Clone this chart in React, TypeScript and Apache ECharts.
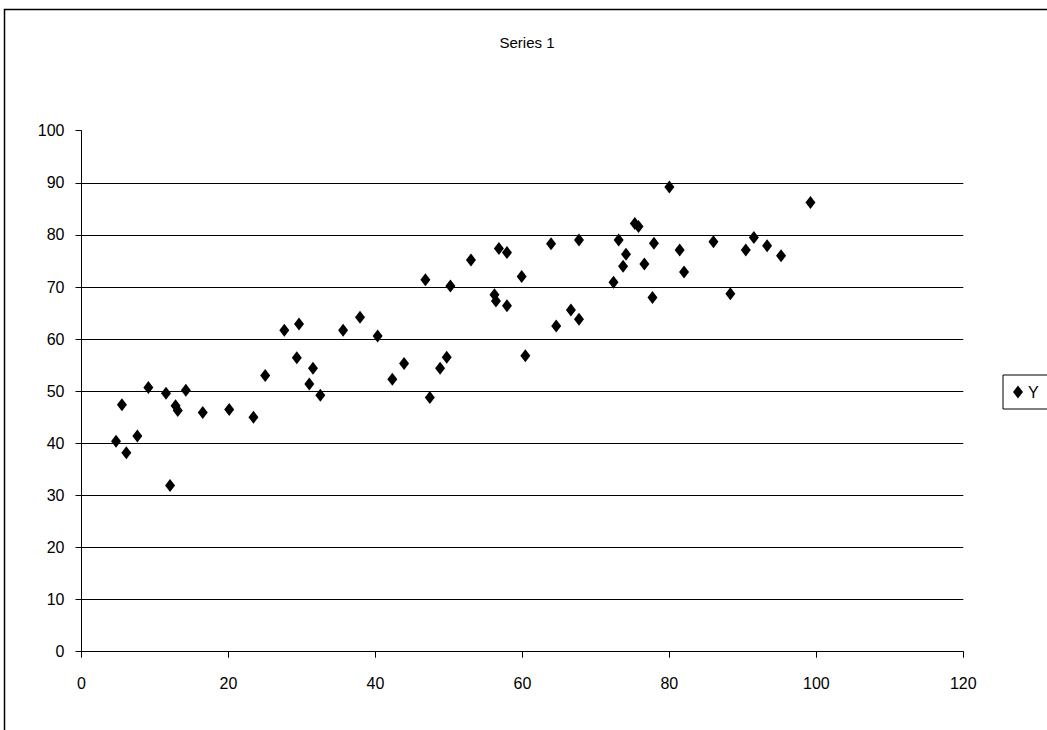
import React, { useEffect, useRef } from "react";
import * as echarts from "echarts";

const seriesName = "Y";
const titleText = "Series 1";

const xValues = [
  4.7, 5.5, 6.1, 7.6, 9.1, 11.5, 12.05, 12.8, 13.1, 14.2, 16.5, 20.1, 23.4, 25.0,
  27.6, 29.6, 29.3, 31.5, 31.0, 32.5, 35.6, 37.9, 40.3, 42.3, 43.9, 46.8, 47.4,
  48.8, 49.7, 50.2, 53.0, 56.8, 57.9, 56.2, 56.4, 57.9, 59.9, 60.4, 63.9, 64.6,
  66.6, 67.7, 67.7, 72.4, 73.1, 73.7, 74.1, 75.3, 75.8, 76.6, 77.7, 77.9, 80.0,
  81.4, 82.0, 86.0, 88.3, 90.4, 91.5, 93.3, 95.2, 99.2,
];
const yValues = [
  40.4, 47.4, 38.2, 41.4, 50.7, 49.6, 31.9, 47.2, 46.3, 50.2, 45.9, 46.5, 45.0, 53.0,
  61.7, 62.9, 56.4, 54.4, 51.4, 49.2, 61.7, 64.2, 60.6, 52.3, 55.3, 71.4, 48.8,
  54.4, 56.5, 70.2, 75.2, 77.4, 76.6, 68.5, 67.3, 66.4, 72.0, 56.8, 78.3, 62.5,
  65.6, 63.8, 79.0, 70.9, 79.0, 74.0, 76.3, 82.2, 81.6, 74.4, 68.0, 78.4, 89.2,
  77.1, 72.9, 78.7, 68.7, 77.1, 79.5, 77.9, 76.0, 86.2,
];

const xMin = 0, xMax = 120, xStep = 20;
const yMin = 0, yMax = 100, yStep = 10;

const FONT = "'Liberation Sans', Arial, sans-serif";

export default function App() {
  const ref = useRef<HTMLDivElement>(null);
  useEffect(() => {
    if (!ref.current) return;
    const chart = echarts.init(ref.current, null, { renderer: "svg" });
    const points = xValues.map((x, i) => [x, yValues[i]]);
    const gridColors: string[] = [];
    for (let v = yMin; v <= yMax; v += yStep) gridColors.push(v === yMax ? "rgba(0,0,0,0)" : "#000");
    chart.setOption({
      animation: false,
      backgroundColor: "#fff",
      title: {
        text: titleText,
        left: 522,
        top: 30,
        textAlign: "center",
        textStyle: { fontFamily: FONT, fontSize: 15, fontWeight: "normal", color: "#000" },
      },
      graphic: [
        {
          type: "rect",
          shape: { x: 4.5, y: 9.5, width: 2000, height: 2000 },
          style: { fill: "none", stroke: "#000", lineWidth: 1.5 },
          silent: true,
        },
      ],
      legend: {
        data: [{ name: seriesName, icon: "diamond" }],
        left: 1003,
        top: 375,
        orient: "vertical",
        itemWidth: 10,
        itemHeight: 13,
        padding: [9, 40, 9, 10],
        borderColor: "#000",
        borderWidth: 1,
        backgroundColor: "#fff",
        textStyle: { fontFamily: FONT, fontSize: 16, color: "#000" },
      },
      grid: { left: 81.5, right: 83.7, top: 130.7, bottom: 78.3, containLabel: false },
      xAxis: {
        type: "value",
        min: xMin,
        max: xMax,
        interval: xStep,
        axisLine: { show: true, onZero: false, lineStyle: { color: "#000", width: 1 } },
        axisTick: { show: true, inside: false, length: 6, lineStyle: { color: "#000" } },
        axisLabel: { color: "#000", fontFamily: FONT, fontSize: 16, margin: 24 },
        splitLine: { show: false },
      },
      yAxis: {
        type: "value",
        min: yMin,
        max: yMax,
        interval: yStep,
        axisLine: { show: true, onZero: false, lineStyle: { color: "#000", width: 1 } },
        axisTick: { show: true, inside: false, length: 6, lineStyle: { color: "#000" } },
        axisLabel: { color: "#000", fontFamily: FONT, fontSize: 16, margin: 17 },
        splitLine: { show: true, lineStyle: { color: gridColors, width: 1 } },
      },
      series: [
        {
          name: seriesName,
          type: "scatter",
          symbol: "diamond",
          symbolSize: [10, 13],
          itemStyle: { color: "#000", opacity: 1 },
          data: points,
        },
      ],
    });
    return () => chart.dispose();
  }, []);
  return (
    <div
      ref={ref}
      style={{ position: "fixed", left: 0, top: 0, width: 1047, height: 730, background: "#fff" }}
    />
  );
}
